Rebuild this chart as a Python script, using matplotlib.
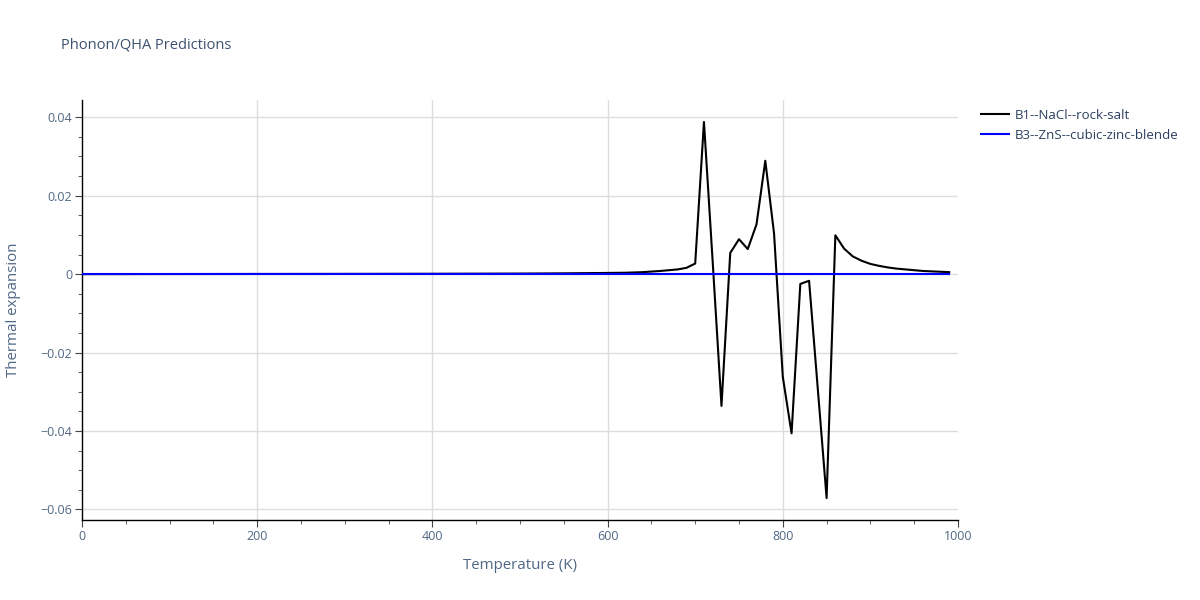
import matplotlib
matplotlib.use("Agg")
import matplotlib.pyplot as plt
from matplotlib.ticker import MultipleLocator

plt.rcParams['font.family'] = ['Open Sans', 'DejaVu Sans']

# B1 rock-salt thermal expansion
temp_b1 = [0, 100, 200, 300, 400, 500, 550, 600, 620, 640, 660, 680, 690,
           700, 710, 720, 730, 740, 750, 760, 770, 780, 790, 800, 810, 820,
           830, 840, 850, 860, 870, 880, 890, 900, 910, 920, 930, 940, 950,
           960, 970, 980, 990]
alpha_b1 = [0.0, 0.00002, 0.00004, 0.00006, 0.00009, 0.00014, 0.0002, 0.0003,
            0.00035, 0.0005, 0.0008, 0.0012, 0.0016,
            0.0027, 0.0388, 0.0030, -0.0336, 0.0054, 0.0089, 0.0064, 0.0127,
            0.0289, 0.0104, -0.0262, -0.0406, -0.0025,
            -0.0017, -0.0294, -0.0571, 0.0099, 0.0065, 0.0045, 0.0034, 0.0026,
            0.0021, 0.0017, 0.0014, 0.0012, 0.0010, 0.0008, 0.0007, 0.0006,
            0.0005]

# B3 zinc-blende, flat at zero
temp_b3 = [0, 100, 200, 300, 400, 500, 600, 700, 800, 900, 990]
alpha_b3 = [0, 0, 0, 0, 0, 0, 0, 0, 0, 0, 0]

label_b1 = "B1--NaCl--rock-salt"
label_b3 = "B3--ZnS--cubic-zinc-blende"

fig = plt.figure(figsize=(12, 6), dpi=100)
ax = fig.add_axes([82 / 1200, 80 / 600, 876 / 1200, 420 / 600])

ax.plot(temp_b1, alpha_b1, color="black", lw=1.5, label=label_b1, zorder=3)
ax.plot(temp_b3, alpha_b3, color="blue", lw=1.5, label=label_b3, zorder=4)

ax.set_xlim(0, 1000)
ax.set_ylim(-0.0627, 0.0444)

ax.xaxis.set_major_locator(MultipleLocator(200))
ax.xaxis.set_minor_locator(MultipleLocator(50))
ax.yaxis.set_major_locator(MultipleLocator(0.02))
ax.yaxis.set_minor_locator(MultipleLocator(0.005))

# grid lines by hand so nothing lands on the right edge
for v in ax.get_xticks():
    if 0 < v < 1000:
        ax.axvline(v, color="#dddddd", lw=1, zorder=0)
for v in ax.get_yticks():
    if -0.0627 < v < 0.0444:
        ax.axhline(v, color="#dddddd", lw=1, zorder=0)

for s in ["top", "right"]:
    ax.spines[s].set_visible(False)
for s in ["left", "bottom"]:
    ax.spines[s].set_color("black")
    ax.spines[s].set_linewidth(1)

tick_col = "#506784"
ax.tick_params(which="major", length=5, color="#444444", labelsize=9,
               labelcolor=tick_col, pad=2)
ax.tick_params(which="minor", length=3, color="#444444")

ax.yaxis.set_major_formatter(
    plt.FuncFormatter(lambda v, p: "0" if abs(v) < 1e-9 else
                      ("%.2f" % v).replace("-", "\u2212")))

ax.set_xlabel("Temperature (K)", fontsize=10.8, color=tick_col, labelpad=11)
ax.set_ylabel("Thermal expansion", fontsize=10.8, color=tick_col, labelpad=14)

fig.text(61 / 1200, 1 - 45 / 600, "Phonon/QHA Predictions", fontsize=10.5,
         color="#3d5170", va="center", ha="left")

leg = fig.legend(loc="upper left", bbox_to_anchor=(981 / 1200, 1 - 109 / 600),
                 frameon=False, fontsize=9.5, handlelength=2.1,
                 handletextpad=0.45, labelspacing=0.5, borderpad=0,
                 borderaxespad=0)
for t in leg.get_texts():
    t.set_color("#2a3f5f")

fig.savefig("out.png", dpi=100)
